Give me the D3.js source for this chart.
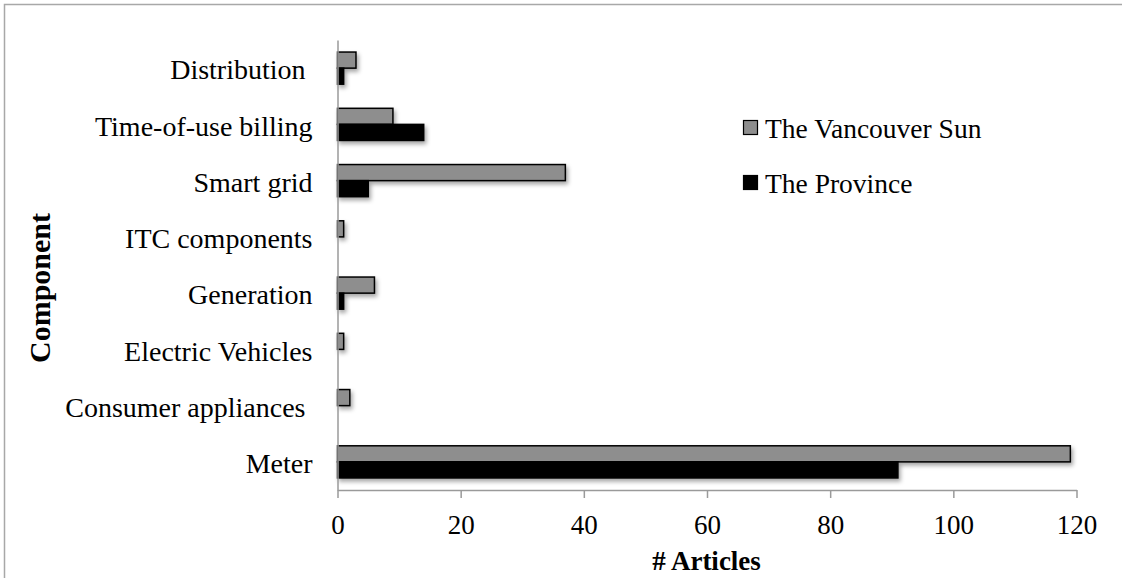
<!DOCTYPE html>
<html>
<head>
<meta charset="utf-8">
<script src="https://cdn.jsdelivr.net/npm/d3@7"></script>
<style>
  html, body { margin: 0; padding: 0; background: #fff; }
  svg { display: block; }
  text { font-family: "Liberation Serif", "Times New Roman", serif; fill: #000; }
</style>
</head>
<body>
<svg id="chart" width="1122" height="578"></svg>
<script>
// Newspaper coverage of smart-meter programme components
const categories = ["Distribution ", "Time-of-use billing", "Smart grid", "ITC components",
                    "Generation", "Electric Vehicles", "Consumer appliances ", "Meter"];
const seriesNames = ["The Vancouver Sun", "The Province"];
const vancouverSun = [3, 9, 37, 1, 6, 1, 2, 119];
const province     = [1, 14, 5, 0, 1, 0, 0, 91];
const xTicks = [0, 20, 40, 60, 80, 100, 120];
const seriesColors = ["#8e8e8e", "#000000"];

const svg = d3.select("#chart");
const W = 1122, H = 578;

svg.append("rect").attr("width", W).attr("height", H).attr("fill", "#fff");

// outer chart frame
svg.append("rect")
  .attr("x", 4.5).attr("y", 4.5)
  .attr("width", W + 20).attr("height", H + 20)
  .attr("fill", "none").attr("stroke", "#a8a8a8").attr("stroke-width", 1.5);

// soft drop shadow under the bars
const defs = svg.append("defs");
const f = defs.append("filter").attr("id", "shadow")
  .attr("x", "-10%").attr("y", "-20%").attr("width", "130%").attr("height", "160%");
f.append("feDropShadow").attr("dx", 2).attr("dy", 3).attr("stdDeviation", 2)
  .attr("flood-color", "#000").attr("flood-opacity", 0.35);

const plot = { left: 337.5, right: 1076.5, top: 40, bottom: 490 };

const x = d3.scaleLinear().domain([0, 120]).range([plot.left, plot.right]);
const y0 = d3.scaleBand().domain(categories).range([plot.top, plot.bottom]).padding(0);
const y1 = d3.scaleBand().domain(seriesNames).range([0, y0.bandwidth()]).paddingOuter(0.75).paddingInner(0);

const rows = categories.map((c, i) => ({ cat: c, values: [vancouverSun[i], province[i]] }));

const bars = svg.append("g").attr("filter", "url(#shadow)");
rows.forEach(r => {
  r.values.forEach((v, si) => {
    if (v <= 0) return;
    bars.append("rect")
      .attr("x", x(0))
      .attr("y", y0(r.cat) + y1(seriesNames[si]))
      .attr("width", x(v) - x(0))
      .attr("height", y1.bandwidth())
      .attr("fill", seriesColors[si])
      .attr("stroke", "#000")
      .attr("stroke-width", 1.5);
  });
});

// x axis
const xAxis = d3.axisBottom(x).tickValues(xTicks).tickSize(8).tickPadding(17).tickSizeOuter(0);
const gx = svg.append("g").attr("transform", `translate(0,${plot.bottom})`).call(xAxis);
gx.select(".domain").attr("stroke", "#9a9a9a").attr("stroke-width", 1.5);
gx.selectAll(".tick line").attr("stroke", "#9a9a9a").attr("stroke-width", 1.5);
gx.selectAll(".tick text")
  .attr("font-family", "Liberation Serif").attr("font-size", 27).attr("fill", "#000");

// y axis (line only, labels on band centres)
const yAxis = d3.axisLeft(y0).tickSize(0).tickPadding(25);
const gy = svg.append("g").attr("transform", `translate(${plot.left},0)`).call(yAxis);
gy.select(".domain").attr("stroke", "#9a9a9a").attr("stroke-width", 1.5);
gy.selectAll(".tick text")
  .attr("font-family", "Liberation Serif").attr("font-size", 28).attr("fill", "#000")
  .attr("dy", "0.4em").style("white-space", "pre");

// axis titles
svg.append("text")
  .attr("x", 706.5).attr("y", 570)
  .attr("text-anchor", "middle").attr("font-weight", "bold").attr("font-size", 27)
  .text("# Articles");

svg.append("text")
  .attr("transform", "translate(50,288) rotate(-90)")
  .attr("text-anchor", "middle").attr("font-weight", "bold").attr("font-size", 30)
  .text("Component");

// legend
const legendRows = [{ name: seriesNames[0], color: seriesColors[0], y: 130 },
                    { name: seriesNames[1], color: seriesColors[1], y: 185 }];
const lg = svg.append("g");
legendRows.forEach(d => {
  lg.append("rect")
    .attr("x", 743.5).attr("y", d.y - 9.5).attr("width", 14).attr("height", 14)
    .attr("fill", d.color).attr("stroke", "#000").attr("stroke-width", 1.2);
  lg.append("text")
    .attr("x", 765).attr("y", d.y + 8)
    .attr("font-size", 27.5)
    .text(d.name);
});
</script>
</body>
</html>
